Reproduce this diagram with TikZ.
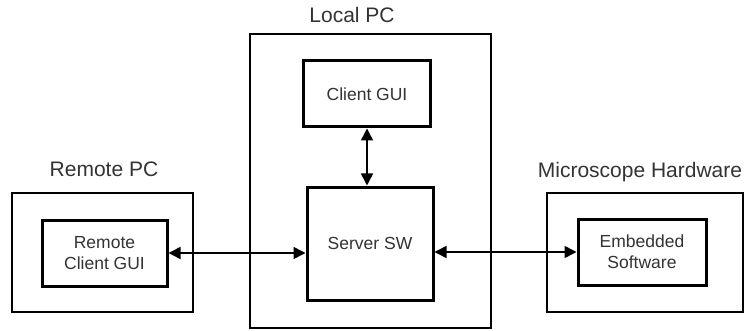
\documentclass[tikz,border=0pt]{standalone}
\usepackage{fontspec}
\setmainfont{Liberation Sans}
\usetikzlibrary{arrows.meta}
\definecolor{txt}{HTML}{333333}
\begin{document}
\begin{tikzpicture}[x=1pt,y=-1pt,
  innerbox/.style={draw=black,line width=3pt,fill=white,text=txt,align=center,
    font=\fontsize{17.5}{21}\selectfont},
  grouplabel/.style={text=txt,font=\fontsize{21}{25}\selectfont,anchor=base,inner sep=0pt},
  groupbox/.style={draw=black,line width=1.3pt,inner sep=0pt},
  link/.style={line width=1.5pt,{Triangle[length=12pt,width=12pt]}-{Triangle[length=12pt,width=12pt]}}]
\useasboundingbox (0,0) rectangle (746,331);
% outer group boxes
\node[groupbox,minimum width=241pt,minimum height=294pt] (localpc) at (370.5,181) {};
\node[groupbox,minimum width=181pt,minimum height=119pt] (remotepc) at (102.5,252.5) {};
\node[groupbox,minimum width=196pt,minimum height=119pt] (mhw) at (645,252.5) {};
% group labels
\node[grouplabel] (llocal) at (352,23) {Local PC};
\node[grouplabel] (lremote) at (104,177) {Remote PC};
\node[grouplabel] (lmhw) at (640,178) {Microscope Hardware};
% inner boxes
\node[innerbox,minimum width=127pt,minimum height=66pt,inner sep=0pt] (clientgui) at (367,94) {Client GUI};
\node[innerbox,minimum width=126pt,minimum height=113pt,inner sep=0pt] (server) at (370,243.5) {Server SW};
\node[innerbox,minimum width=125pt,minimum height=66pt,inner sep=0pt] (remotegui) at (104.5,253) {Remote\\Client GUI};
\node[innerbox,minimum width=128pt,minimum height=66pt,inner sep=0pt] (embedded) at (642,252) {Embedded\\Software};
% connectors
\draw[link] (clientgui.south) -- (clientgui.south |- server.north);
\draw[link] (remotegui.east) -- (remotegui.east -| server.west);
\draw[link] (server.east |- embedded.west) -- (embedded.west);
\end{tikzpicture}
\end{document}
